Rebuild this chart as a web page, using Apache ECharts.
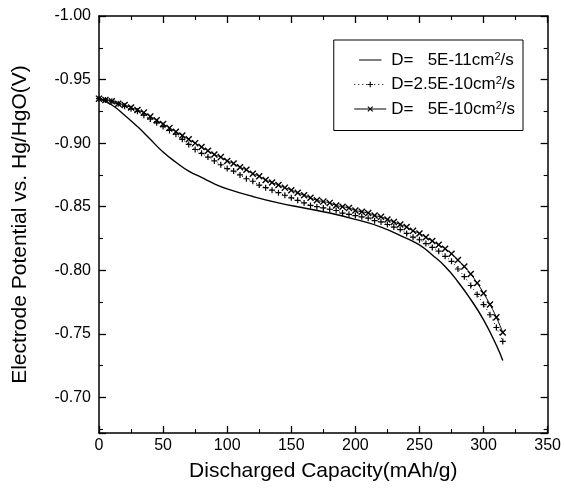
<!DOCTYPE html>
<html><head><meta charset="utf-8">
<script src="https://cdn.jsdelivr.net/npm/echarts@6/dist/echarts.min.js"></script>
<style>html,body{margin:0;padding:0;background:#fff}#c{width:564px;height:495px}</style>
</head><body><div id="c"></div>
<script>
// Discharged capacity (mAh/g) and electrode potential (V)
var capSolid = [0,10,20,30,40,50,60,70,80,90,100,120,140,160,180,200,220,240,250,260,270,280,290,300,310,315];
var potSolid = [-0.935,-0.930,-0.922,-0.913,-0.903,-0.893,-0.885,-0.878,-0.873,-0.868,-0.864,-0.858,-0.853,-0.849,-0.845,-0.840,-0.834,-0.825,-0.820,-0.812,-0.803,-0.791,-0.777,-0.761,-0.741,-0.729];

var capMarked = [0,5,10,15,20,25,30,35,40,45,50,55,60,65,70,75,80,85,90,95,100,105,110,115,120,125,130,135,140,145,150,155,160,165,170,175,180,185,190,195,200,205,210,215,220,225,230,235,240,245,250,255,260,265,270,275,280,285,290,295,300,305,310,315];
var potPlus = [-0.935,-0.934,-0.933,-0.931,-0.929,-0.927,-0.925,-0.922,-0.919,-0.916,-0.913,-0.910,-0.907,-0.903,-0.899,-0.895,-0.892,-0.889,-0.886,-0.883,-0.880,-0.878,-0.875,-0.872,-0.870,-0.867,-0.865,-0.863,-0.861,-0.859,-0.857,-0.855,-0.853,-0.851,-0.850,-0.849,-0.848,-0.847,-0.845,-0.844,-0.843,-0.842,-0.841,-0.839,-0.838,-0.836,-0.834,-0.832,-0.829,-0.826,-0.824,-0.821,-0.818,-0.815,-0.811,-0.807,-0.801,-0.795,-0.788,-0.781,-0.773,-0.765,-0.755,-0.744];
var potCross = [-0.935,-0.934,-0.933,-0.931,-0.930,-0.928,-0.926,-0.924,-0.921,-0.918,-0.915,-0.912,-0.909,-0.906,-0.903,-0.900,-0.897,-0.894,-0.891,-0.889,-0.886,-0.884,-0.881,-0.879,-0.876,-0.874,-0.871,-0.869,-0.867,-0.865,-0.863,-0.861,-0.859,-0.857,-0.855,-0.854,-0.853,-0.851,-0.850,-0.849,-0.847,-0.846,-0.845,-0.843,-0.842,-0.840,-0.838,-0.836,-0.834,-0.831,-0.829,-0.826,-0.823,-0.820,-0.817,-0.813,-0.808,-0.803,-0.797,-0.790,-0.782,-0.773,-0.763,-0.751];

var seriesNames = ['D=   5E-11cm{s|2}/s', 'D=2.5E-10cm{s|2}/s', 'D=   5E-10cm{s|2}/s'];
var xTicks = [0,50,100,150,200,250,300,350];
var yTicks = [-1.00,-0.95,-0.90,-0.85,-0.80,-0.75,-0.70];

function pairs(xs, ys){ return xs.map(function(x,i){return [x, ys[i]];}); }

var FONT = '"Liberation Sans", Arial, sans-serif';
var plusPath = 'path://M4,0H6V4H10V6H6V10H4V6H0V4H4Z';
var crossPath = 'path://M1.4,0L5,3.6L8.6,0L10,1.4L6.4,5L10,8.6L8.6,10L5,6.4L1.4,10L0,8.6L3.6,5L0,1.4Z';
var plainLineIcon = 'path://M0,0H0.01V0.01H0Z M0,4.2H32V5.8H0Z M31.99,9.99H32V10H31.99Z';

var baseX = {
  type:'value', min:0, max:350, interval:50,
  axisLine:{show:true, onZero:false, lineStyle:{color:'#000', width:1.5}},
  axisTick:{show:true, inside:true, length:7, lineStyle:{color:'#000', width:1.3}},
  minorTick:{show:true, splitNumber:2, length:4, lineStyle:{color:'#000', width:1.1}},
  splitLine:{show:false}
};
var baseY = {
  type:'value', min:-1.0, max:-0.672, interval:0.05, inverse:true,
  axisLine:{show:true, onZero:false, lineStyle:{color:'#000', width:1.5}},
  axisTick:{show:true, inside:true, length:7, lineStyle:{color:'#000', width:1.3}},
  minorTick:{show:true, splitNumber:2, length:4, lineStyle:{color:'#000', width:1.1}},
  splitLine:{show:false}
};

var chart = echarts.init(document.getElementById('c'), null, {renderer:'canvas'});
chart.setOption({
  animation:false,
  backgroundColor:'#fff',
  grid:{left:99, right:14, top:16, bottom:62, containLabel:false},
  xAxis:[
    Object.assign({}, baseX, {
      position:'bottom',
      name:'Discharged Capacity(mAh/g)', nameLocation:'middle', nameGap:28,
      nameTextStyle:{fontFamily:FONT, fontSize:21, color:'#000'},
      axisLabel:{fontFamily:FONT, fontSize:16, color:'#000', margin:5,
        formatter:function(v){ return xTicks.indexOf(v) >= 0 ? String(v) : ''; }}
    }),
    Object.assign({}, baseX, {position:'top', axisLabel:{show:false}})
  ],
  yAxis:[
    Object.assign({}, baseY, {
      position:'left',
      name:'Electrode Potential vs. Hg/HgO(V)', nameLocation:'middle', nameGap:68,
      nameTextStyle:{fontFamily:FONT, fontSize:21, color:'#000'},
      axisLabel:{fontFamily:FONT, fontSize:16, color:'#000', margin:8, showMaxLabel:false,
        formatter:function(v){
          for (var i=0;i<yTicks.length;i++){ if (Math.abs(yTicks[i]-v)<1e-6) return yTicks[i].toFixed(2); }
          return '';
        }}
    }),
    Object.assign({}, baseY, {position:'right', axisLabel:{show:false}})
  ],
  legend:{
    show:true, orient:'vertical', right:41, top:40,
    backgroundColor:'#fff', borderColor:'#000', borderWidth:1,
    padding:[11,8,13,20], itemGap:7, itemWidth:32, itemHeight:7,
    textStyle:{fontFamily:FONT, fontSize:17, color:'#000',
      rich:{s:{fontFamily:FONT, fontSize:11, color:'#000', verticalAlign:'top', padding:[0,0,7,0]}}},
    data:[
      {name:seriesNames[0], icon:plainLineIcon, itemStyle:{color:'#000', borderWidth:0}},
      {name:seriesNames[1], lineStyle:{width:1}},
      {name:seriesNames[2], lineStyle:{width:1}}
    ]
  },
  series:[
    {
      name:seriesNames[0], type:'line', smooth:true, symbol:'none',
      data:pairs(capSolid, potSolid),
      lineStyle:{color:'#000', width:1.4}, itemStyle:{color:'#000'}
    },
    {
      name:seriesNames[1], type:'line', smooth:true, symbol:plusPath, symbolSize:6,
      data:pairs(capMarked, potPlus),
      lineStyle:{color:'#000', width:1, type:[1,3]}, itemStyle:{color:'#000'}
    },
    {
      name:seriesNames[2], type:'line', smooth:true, symbol:crossPath, symbolSize:7,
      data:pairs(capMarked, potCross),
      lineStyle:{color:'#000', width:1}, itemStyle:{color:'#000'}
    }
  ]
});
</script></body></html>
